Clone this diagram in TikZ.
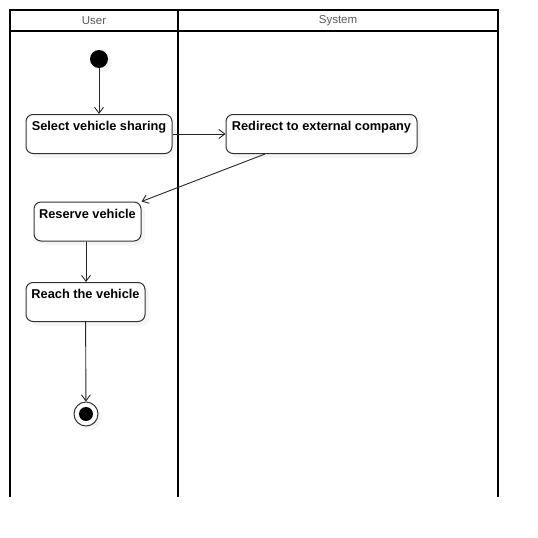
\documentclass[tikz,border=0pt]{standalone}
\usepackage{fontspec}
\setmainfont{Liberation Sans}
\usepackage{xcolor}
\usetikzlibrary{arrows.meta,shadows}

\begin{document}
\begin{tikzpicture}[x=1pt,y=-1pt,
    lane/.style={line width=2pt},
    lanetitle/.style={text=black!65,font=\fontsize{11.5}{13}\selectfont},
    action/.style={draw=black!80,line width=1pt,fill=white,rounded corners=7pt,
        inner xsep=0pt,inner ysep=4pt,text height=12pt,text depth=19pt,
        font=\bfseries\fontsize{12.8}{14}\selectfont,
        drop shadow={shadow xshift=4pt,shadow yshift=-4pt,fill=black!8}},
    flow/.style={draw=black!85,line width=0.9pt,-{Straight Barb[length=6pt,width=9pt]}}]
    \useasboundingbox (0,0) rectangle (538,538);

    % swimlanes
    \draw[lane] (10,497) -- (10,10) -- (498,10) -- (498,497);
    \draw[lane] (178,10) -- (178,497);
    \draw[lane] (10,31) -- (498,31);
    \node[lanetitle] (user) at (94,21) {User};
    \node[lanetitle] (system) at (338,21) {System};

    \node[circle,fill=black,minimum size=18pt,inner sep=0pt,
        drop shadow={shadow xshift=4pt,shadow yshift=-4pt,fill=black!8}] (start) at (99,59) {};

    \node[action,minimum width=146pt] (select) at (99,134) {Select vehicle sharing};
    \node[action,minimum width=191pt] (redirect) at (321.5,134) {Redirect to external company};
    \node[action,minimum width=107pt] (reserve) at (87.5,221.5) {Reserve vehicle};
    \node[action,minimum width=119pt] (reach) at (85.5,302) {Reach the vehicle};

    \node[circle,draw=black!80,line width=1pt,fill=white,minimum size=24pt,inner sep=0pt,
        drop shadow={shadow xshift=4pt,shadow yshift=-4pt,fill=black!8}] (end) at (86,414) {};
    \fill (end.center) circle (7);

    \draw[flow] (start) -- (select.north -| start);
    \draw[flow] (select) -- (redirect);
    \draw[flow] ([xshift=-56.5pt]redirect.south) -- (reserve.north east);
    \draw[flow] (reserve.south -| 86,0) -- (reach.north -| 86,0);
    \draw[flow] (reach) -- (end);
\end{tikzpicture}
\end{document}
